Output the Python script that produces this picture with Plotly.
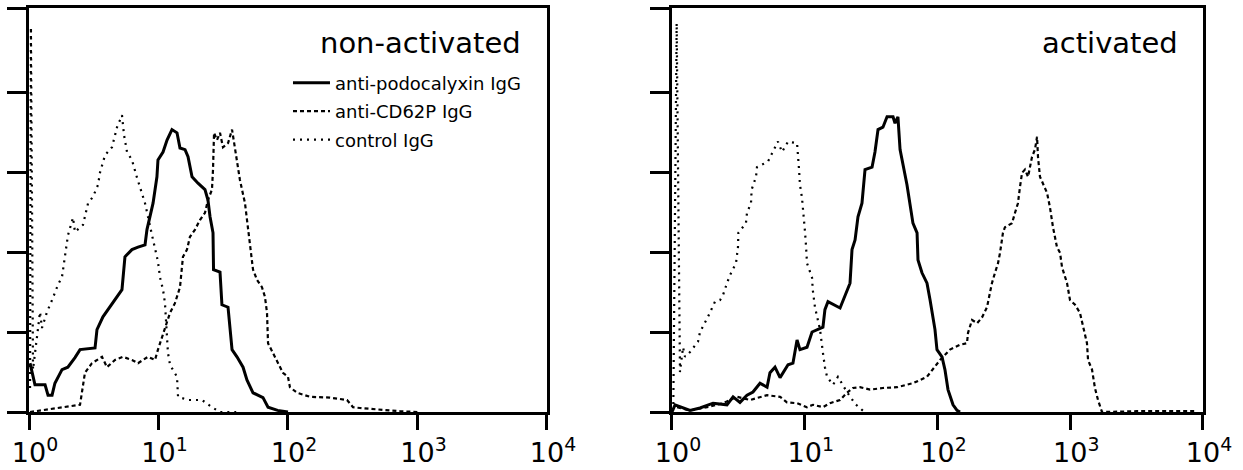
import plotly.graph_objects as go

# x values are log10(fluorescence); tick labels show the decades
decades = [0, 1, 2, 3, 4]
decade_labels = ["<sup>\u2007</sup>10<sup>%d</sup>" % d for d in decades]
count_ticks = [0, 1, 2, 3, 4, 5.05]
panel_titles = ["non-activated", "activated"]
series_names = ["anti-podocalyxin IgG", "anti-CD62P IgG", "control IgG"]

# ---- non-activated ----
pod_non_x = [0.008, 0.046, 0.124, 0.147, 0.178, 0.2, 0.255, 0.30, 0.355, 0.394, 0.51, 0.525, 0.571, 0.61, 0.664,
             0.718, 0.741, 0.795, 0.842, 0.896, 0.911, 0.934, 0.958, 0.988, 0.996, 1.035, 1.066, 1.104, 1.143, 1.166,
             1.205, 1.228, 1.259, 1.305, 1.359, 1.382, 1.398, 1.421, 1.425, 1.475, 1.49, 1.537, 1.568, 1.606, 1.653,
             1.683, 1.73, 1.807, 1.846, 1.92, 2.0]
pod_non_y = [0.61, 0.34, 0.34, 0.21, 0.21, 0.36, 0.53, 0.56, 0.68, 0.78, 0.80, 1.03, 1.19, 1.28, 1.40,
             1.53, 1.94, 2.03, 2.06, 2.09, 2.28, 2.44, 2.61, 2.94, 3.15, 3.25, 3.40, 3.53, 3.49, 3.30,
             3.28, 3.19, 2.94, 2.86, 2.78, 2.65, 2.44, 2.24, 1.78, 1.75, 1.34, 1.31, 0.78, 0.69, 0.56,
             0.40, 0.24, 0.18, 0.06, 0.02, 0.0]

cd62_non_x = [0.008, 0.394, 0.432, 0.486, 0.564, 0.602, 0.664, 0.726, 0.795, 0.842, 0.919, 0.973, 0.996, 1.05,
              1.089, 1.127, 1.166, 1.189, 1.22, 1.243, 1.282, 1.32, 1.359, 1.382, 1.413, 1.421, 1.429, 1.452,
              1.475, 1.498, 1.537, 1.568, 1.591, 1.606, 1.629, 1.668, 1.683, 1.707, 1.73, 1.761, 1.799, 1.822,
              1.838, 1.846, 1.884, 1.923, 1.961, 2.0, 2.015, 2.07, 2.17, 2.324, 2.456, 2.502, 2.556, 2.865, 3.0]
cd62_non_y = [0.0, 0.09, 0.49, 0.61, 0.69, 0.56, 0.65, 0.69, 0.65, 0.61, 0.69, 0.65, 0.78, 1.06,
              1.24, 1.36, 1.56, 1.94, 2.03, 2.19, 2.28, 2.40, 2.49, 2.65, 2.78, 3.03, 3.49, 3.40,
              3.49, 3.31, 3.36, 3.53, 3.31, 3.15, 2.90, 2.61, 2.40, 2.11, 1.78, 1.65, 1.56, 1.44,
              1.24, 0.86, 0.74, 0.61, 0.49, 0.44, 0.31, 0.24, 0.19, 0.18, 0.15, 0.06, 0.05, 0.01, 0.0]

ctrl_non_x = [0.008, 0.015, 0.031, 0.054, 0.085, 0.10, 0.139, 0.178, 0.20, 0.224, 0.255, 0.278, 0.286, 0.301,
              0.34, 0.355, 0.417, 0.432, 0.456, 0.494, 0.533, 0.548, 0.587, 0.641, 0.68, 0.718, 0.734, 0.757,
              0.795, 0.834, 0.865, 0.896, 0.95, 0.973, 0.996, 1.012, 1.035, 1.05, 1.073, 1.089, 1.143, 1.151,
              1.228, 1.336, 1.413, 1.475, 1.6]
ctrl_non_y = [0.3, 4.81, 0.53, 0.84, 1.25, 1.05, 1.25, 1.40, 1.49, 1.59, 1.69, 1.94, 2.09, 2.21,
              2.43, 2.25, 2.34, 2.46, 2.61, 2.69, 2.84, 2.99, 3.21, 3.31, 3.56, 3.71, 3.46, 3.25,
              3.15, 2.93, 2.78, 2.61, 2.21, 2.06, 1.88, 1.68, 1.53, 1.36, 0.74, 0.59, 0.44, 0.19,
              0.15, 0.15, 0.06, 0.0, 0.0]

# ---- activated ----
pod_act_x = [0.0, 0.023, 0.136, 0.211, 0.309, 0.414, 0.46, 0.512, 0.565, 0.61, 0.663, 0.716, 0.738, 0.776,
             0.814, 0.874, 0.911, 0.942, 0.964, 1.017, 1.055, 1.092, 1.137, 1.152, 1.175, 1.266, 1.303, 1.341,
             1.356, 1.379, 1.401, 1.431, 1.454, 1.507, 1.529, 1.552, 1.589, 1.62, 1.665, 1.68, 1.702, 1.718,
             1.77, 1.793, 1.815, 1.846, 1.853, 1.883, 1.921, 1.944, 1.966, 1.981, 1.996, 2.034, 2.056, 2.072,
             2.079, 2.117, 2.147, 2.17]
pod_act_y = [0.0, 0.09, 0.02, 0.05, 0.11, 0.09, 0.19, 0.12, 0.21, 0.25, 0.36, 0.31, 0.49, 0.56,
             0.43, 0.59, 0.61, 0.90, 0.78, 0.81, 1.00, 1.03, 1.06, 1.28, 1.38, 1.30, 1.46, 1.61,
             2.03, 2.15, 2.44, 2.61, 3.03, 3.06, 3.25, 3.53, 3.56, 3.69, 3.69, 3.61, 3.69, 3.28,
             2.84, 2.56, 2.36, 2.24, 1.90, 1.74, 1.61, 1.40, 1.19, 1.03, 0.78, 0.69, 0.53, 0.36,
             0.28, 0.09, 0.02, 0.0]

cd62_act_x = [0.038, 0.136, 0.264, 0.384, 0.49, 0.587, 0.716, 0.814, 0.866, 0.942, 1.017, 1.062, 1.137, 1.19,
              1.266, 1.318, 1.363, 1.416, 1.492, 1.589, 1.695, 1.815, 1.921, 1.966, 2.019, 2.094, 2.17, 2.222,
              2.23, 2.26, 2.298, 2.335, 2.373, 2.395, 2.41, 2.433, 2.456, 2.471, 2.493, 2.508, 2.561, 2.584,
              2.606, 2.621, 2.637, 2.659, 2.682, 2.712, 2.734, 2.75, 2.757, 2.772, 2.795, 2.825, 2.847, 2.87,
              2.9, 2.923, 2.938, 2.976, 2.998, 3.036, 3.073, 3.096, 3.126, 3.134, 3.164, 3.186, 3.209, 3.239,
              3.5, 3.95]
cd62_act_y = [0.06, 0.02, 0.06, 0.11, 0.19, 0.15, 0.21, 0.19, 0.12, 0.11, 0.06, 0.09, 0.06, 0.11,
              0.15, 0.24, 0.30, 0.31, 0.28, 0.30, 0.31, 0.36, 0.44, 0.53, 0.65, 0.78, 0.84, 0.86,
              0.99, 1.15, 1.11, 1.18, 1.31, 1.49, 1.61, 1.74, 1.86, 1.99, 2.24, 2.31, 2.36, 2.49,
              2.61, 2.81, 2.99, 3.03, 2.94, 3.19, 3.28, 3.44, 3.19, 2.94, 2.86, 2.74, 2.56, 2.31,
              2.06, 1.99, 1.81, 1.61, 1.40, 1.34, 1.24, 1.06, 0.86, 0.65, 0.53, 0.30, 0.15, 0.0,
              0.01, 0.01]

ctrl_act_x = [0.01, 0.035, 0.06, 0.083, 0.098, 0.136, 0.196, 0.211, 0.271, 0.286, 0.324, 0.362, 0.384, 0.414,
              0.437, 0.482, 0.497, 0.50, 0.557, 0.565, 0.595, 0.60, 0.633, 0.64, 0.723, 0.798, 0.829, 0.874,
              0.942, 0.957, 0.964, 0.979, 0.987, 0.99, 1.002, 1.009, 1.017, 1.055, 1.06, 1.077, 1.115, 1.137,
              1.152, 1.168, 1.213, 1.25, 1.318, 1.38, 1.45]
ctrl_act_y = [0.1, 4.86, 0.5, 0.81, 0.69, 0.75, 0.88, 1.00, 1.19, 1.24, 1.38, 1.40, 1.46, 1.61,
              1.71, 1.86, 2.06, 2.24, 2.36, 2.49, 2.61, 2.78, 2.94, 3.06, 3.13, 3.38, 3.25, 3.38,
              3.36, 3.03, 2.84, 2.68, 2.56, 2.43, 2.25, 2.09, 1.86, 1.68, 1.53, 1.31, 1.03, 0.74,
              0.56, 0.44, 0.34, 0.44, 0.25, 0.10, 0.0]

FONT = "DejaVu Sans"
styles = [dict(color="black", width=3),
          dict(color="black", width=2.2, dash="4px,3px"),
          dict(color="black", width=2.2, dash="2px,5px")]

fig = go.Figure()
panels = [
    ("x", "y", [(pod_non_x, pod_non_y), (cd62_non_x, cd62_non_y), (ctrl_non_x, ctrl_non_y)], True),
    ("x2", "y2", [(pod_act_x, pod_act_y), (cd62_act_x, cd62_act_y), (ctrl_act_x, ctrl_act_y)], False),
]
for xa, ya, series, show in panels:
    for i, (xs, ys) in enumerate(series):
        fig.add_trace(go.Scatter(x=xs, y=ys, mode="lines", name=series_names[i],
                                 line=styles[i], xaxis=xa, yaxis=ya,
                                 showlegend=show, legendgroup=series_names[i]))

xcommon = dict(range=[0, 4], tickmode="array", tickvals=decades, ticktext=decade_labels,
               ticks="outside", ticklen=15, tickwidth=3, tickcolor="black",
               showline=True, linewidth=3, linecolor="black", mirror=True, automargin=False,
               ticklabeloverflow="allow",
               showgrid=False, zeroline=False, tickfont=dict(family=FONT, size=27, color="black"))
ycommon = dict(range=[0, 5.05], tickmode="array", tickvals=count_ticks, showticklabels=False,
               ticks="outside", ticklen=19, tickwidth=3, tickcolor="black", automargin=False,
               showline=True, linewidth=3, linecolor="black", mirror=True,
               showgrid=False, zeroline=False)

fig.update_layout(
    width=1243, height=470,
    margin=dict(l=29, r=40, t=8, b=58),
    paper_bgcolor="white", plot_bgcolor="white",
    font=dict(family=FONT, color="black"),
    xaxis=dict(domain=[0, 0.4412], anchor="y", **xcommon),
    yaxis=dict(domain=[0, 1], anchor="x", **ycommon),
    xaxis2=dict(domain=[0.5477, 1], anchor="y2", **xcommon),
    yaxis2=dict(domain=[0, 1], anchor="x2", **ycommon),
    legend=dict(x=0.2206, y=0.86, xanchor="left", yanchor="top", itemwidth=37,
                font=dict(family=FONT, size=18, color="black"),
                bgcolor="rgba(0,0,0,0)", tracegroupgap=2, traceorder="grouped"),
    annotations=[
        dict(text=panel_titles[0], xref="x domain", yref="y domain", x=0.9537, y=0.913,
             xanchor="right", yanchor="middle", showarrow=False,
             font=dict(family=FONT, size=29, color="black")),
        dict(text=panel_titles[1], xref="x2 domain", yref="y2 domain", x=0.9567, y=0.913,
             xanchor="right", yanchor="middle", showarrow=False,
             font=dict(family=FONT, size=29, color="black")),
    ],
)

fig.write_html("out.html", config={"displayModeBar": False},
               post_script="document.body.style.margin='0';document.body.style.overflow='hidden';")
